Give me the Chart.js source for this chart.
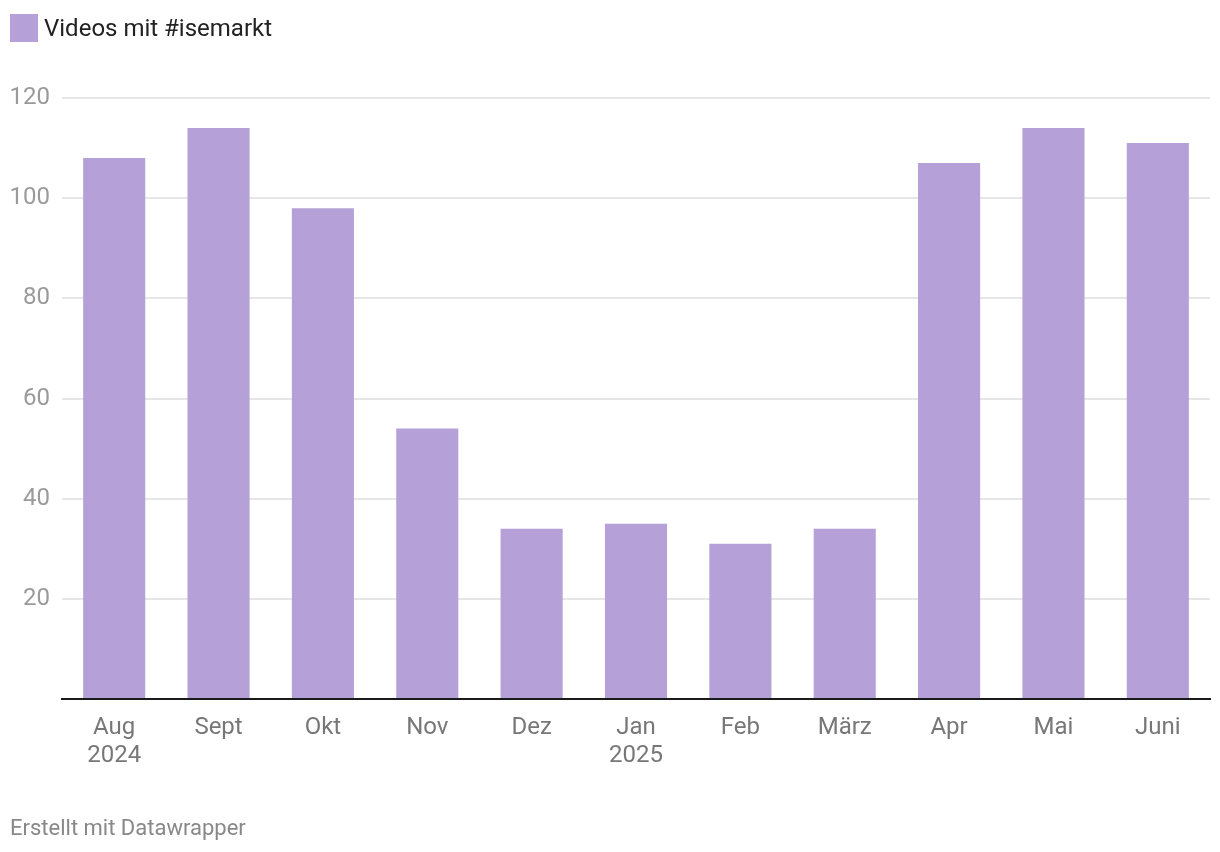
<!DOCTYPE html>
<html>
<head>
<meta charset="utf-8">
<script src="https://cdn.jsdelivr.net/npm/chart.js@4"></script>
<style>
  body { margin: 0; background: #fff; font-family: Roboto, sans-serif; }
  #wrap { position: relative; width: 1220px; height: 852px; }
  #legend { position: absolute; left: 10px; top: 14px; height: 28px; display: flex; align-items: center; font-size: 24px; color: #222; }
  #legend span.box { width: 28px; height: 28px; background: #b5a1d8; margin-right: 6px; }
  #footer { position: absolute; left: 10px; top: 816px; line-height: 24px; font-size: 22px; color: #888; }
</style>
</head>
<body>
<div id="wrap">
  <canvas id="chart"></canvas>
  <div id="legend"><span class="box"></span>Videos mit #isemarkt</div>
  <div id="footer">Erstellt mit Datawrapper</div>
</div>
<script>
// Monate (mit Jahr beim ersten Monat des Jahres)
var categories = [['Aug', '2024'], 'Sept', 'Okt', 'Nov', 'Dez', ['Jan', '2025'], 'Feb', 'März', 'Apr', 'Mai', 'Juni'];
// Anzahl Videos pro Monat
var videos = [108, 114, 98, 54, 34, 35, 31, 34, 107, 114, 111];
// Werte der y-Achse
var yTicks = [20, 40, 60, 80, 100, 120];

var barColor = '#b5a1d8';

var ctx = document.getElementById('chart').getContext('2d');
new Chart(ctx, {
    type: 'bar',
    data: {
        labels: categories,
        datasets: [{
            label: 'Videos mit #isemarkt',
            data: videos,
            backgroundColor: barColor,
            barPercentage: 0.595,
            categoryPercentage: 1
        }]
    },
    options: {
        responsive: true,
        maintainAspectRatio: false,
        animation: false,
        layout: { padding: { top: 98, right: 10, bottom: 83, left: 0 } },
        plugins: {
            legend: { display: false },
            tooltip: { enabled: false }
        },
        scales: {
            x: {
                grid: { display: false, drawTicks: false },
                border: { display: true, color: '#1a1a1a', width: 2 },
                ticks: {
                    color: '#777',
                    font: { family: 'Roboto', size: 24, lineHeight: 1.17 },
                    padding: 15,
                    maxRotation: 0,
                    autoSkip: false
                },
                afterFit: function(scale) { scale.height = 70; }
            },
            y: {
                min: 0,
                max: 120,
                afterBuildTicks: function(scale) {
                    scale.ticks = [0].concat(yTicks).map(function(v) { return { value: v }; });
                },
                grid: {
                    color: function(c) { return c.tick.value === 0 ? 'rgba(0,0,0,0)' : '#e6e6e6'; },
                    lineWidth: 2,
                    drawTicks: false
                },
                border: { display: false },
                ticks: {
                    color: '#9a9a9a',
                    font: { family: 'Roboto', size: 24 },
                    padding: 12,
                    callback: function(v) { return v === 0 ? '' : v; }
                },
                afterFit: function(scale) { scale.width = 62; }
            }
        }
    }
});
</script>
</body>
</html>
